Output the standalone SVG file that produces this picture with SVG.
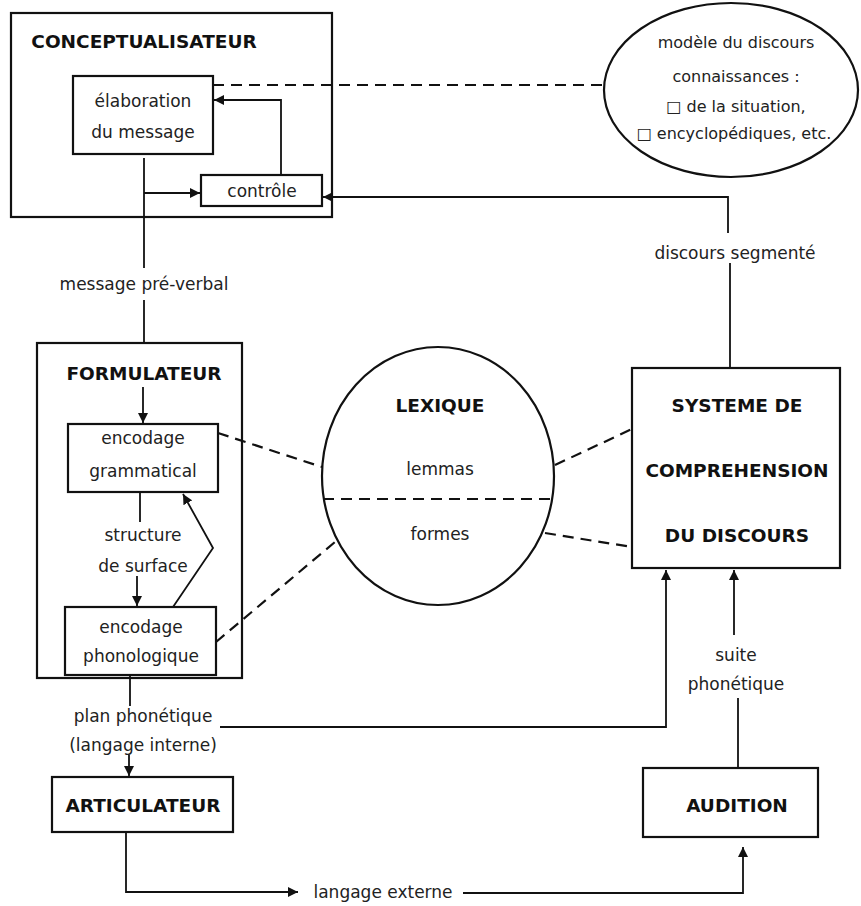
<svg xmlns="http://www.w3.org/2000/svg" width="861" height="906" viewBox="0 0 861 906">
<defs>
<marker id="ah" viewBox="0 0 10 10" refX="10" refY="5" markerWidth="10" markerHeight="10" markerUnits="userSpaceOnUse" orient="auto">
<path d="M0,0 L10,5 L0,10 z" fill="#111"/>
</marker>
</defs>
<style>
.box{fill:#fff;stroke:#111;stroke-width:2.2}
.t{font-family:"DejaVu Sans","Liberation Sans",sans-serif;font-size:17px;fill:#222;text-anchor:middle}
.e{font-size:16px}
.b{font-family:"DejaVu Sans","Liberation Sans",sans-serif;font-size:18.5px;font-weight:bold;fill:#111;text-anchor:middle}
.ln{fill:none;stroke:#111;stroke-width:1.8}
.ar{fill:none;stroke:#111;stroke-width:1.8;marker-end:url(#ah)}
.da{fill:none;stroke:#111;stroke-width:2.2;stroke-dasharray:11,7}
</style>
<rect width="861" height="906" fill="#fff"/>

<g id="conceptualisateur">
<rect class="box" x="11" y="13" width="321" height="204"/>
<text class="b" x="144" y="48" font-size="19.5">CONCEPTUALISATEUR</text>
</g>
<g id="elaboration">
<rect class="box" x="73" y="76" width="140" height="78"/>
<text class="t" x="143" y="107">élaboration</text>
<text class="t" x="143" y="138">du message</text>
</g>
<g id="controle">
<rect class="box" x="201" y="175" width="121" height="31"/>
<text class="t" x="262" y="197">contrôle</text>
</g>
<g id="modele">
<ellipse class="box" cx="731" cy="90" rx="127" ry="87"/>
<text class="t e" x="736" y="48">modèle du discours</text>
<text class="t e" x="736" y="82">connaissances :</text>
<text class="t e" x="736" y="112">□ de la situation,</text>
<text class="t e" x="734" y="139" font-size="15.5">□ encyclopédiques, etc.</text>
</g>
<g id="formulateur">
<rect class="box" x="37" y="343" width="205" height="335"/>
<text class="b" x="144" y="380">FORMULATEUR</text>
</g>
<g id="grammatical">
<rect class="box" x="68" y="424" width="150" height="68"/>
<text class="t" x="143" y="444">encodage</text>
<text class="t" x="143" y="477">grammatical</text>
</g>
<g id="phonologique">
<rect class="box" x="65" y="607" width="151" height="68"/>
<text class="t" x="141" y="633">encodage</text>
<text class="t" x="141" y="662">phonologique</text>
</g>
<g id="lexique">
<ellipse class="box" cx="438" cy="476" rx="116" ry="129"/>
<text class="b" x="440" y="412">LEXIQUE</text>
<text class="t" x="440" y="475">lemmas</text>
<text class="t" x="440" y="540">formes</text>
<line class="da" x1="323" y1="499" x2="553" y2="499"/>
</g>
<g id="systeme">
<rect class="box" x="632" y="368" width="208" height="200"/>
<text class="b" x="737" y="412" font-size="19.5">SYSTEME DE</text>
<text class="b" x="737" y="477" font-size="19.5">COMPREHENSION</text>
<text class="b" x="737" y="542" font-size="19.5">DU DISCOURS</text>
</g>
<g id="articulateur">
<rect class="box" x="52" y="777" width="181" height="55"/>
<text class="b" x="143" y="812">ARTICULATEUR</text>
</g>
<g id="audition">
<rect class="box" x="643" y="768" width="175" height="69"/>
<text class="b" x="737" y="812">AUDITION</text>
</g>

<g id="connectors">
<line class="da" x1="213" y1="85" x2="605" y2="85"/>
<path class="ar" d="M281,175 L281,100 L214,100"/>
<line class="ln" x1="144" y1="158" x2="144" y2="268"/>
<line class="ar" x1="144" y1="193" x2="200" y2="193"/>
<text class="t" x="144" y="290">message pré-verbal</text>
<line class="ln" x1="144" y1="300" x2="144" y2="343"/>
<line class="ar" x1="143" y1="387" x2="143" y2="423"/>
<line class="ln" x1="140" y1="492" x2="140" y2="522"/>
<text class="t" x="143" y="541">structure</text>
<text class="t" x="143" y="572">de surface</text>
<line class="ar" x1="137" y1="576" x2="137" y2="606"/>
<path class="ar" d="M173,607 L213,548 L183,494"/>
<line class="da" x1="218" y1="433" x2="322" y2="467"/>
<line class="da" x1="216" y1="642" x2="335" y2="542"/>
<line class="da" x1="555" y1="465" x2="632" y2="429"/>
<line class="da" x1="545" y1="533" x2="632" y2="547"/>
<path class="ar" d="M728,233 L728,197 L323,197"/>
<text class="t" x="735" y="259">discours segmenté</text>
<line class="ln" x1="730" y1="263" x2="730" y2="368"/>
<line class="ln" x1="130" y1="675" x2="130" y2="706"/>
<text class="t" x="143" y="722">plan phonétique</text>
<text class="t" x="143" y="751">(langage interne)</text>
<line class="ar" x1="129" y1="755" x2="129" y2="776"/>
<path class="ar" d="M220,727 L666,727 L666,570"/>
<line class="ar" x1="734" y1="635" x2="734" y2="570"/>
<text class="t" x="736" y="661">suite</text>
<text class="t" x="736" y="690">phonétique</text>
<line class="ln" x1="738" y1="698" x2="738" y2="768"/>
<path class="ar" d="M126,832 L126,892 L298,892"/>
<text class="t" x="383" y="898">langage externe</text>
<path class="ar" d="M463,893 L743,893 L743,847"/>
</g>
</svg>
